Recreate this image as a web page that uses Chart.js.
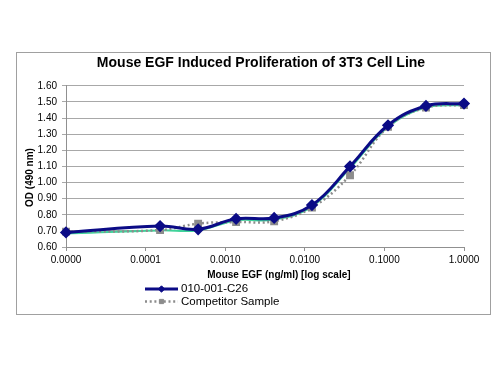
<!DOCTYPE html>
<html>
<head>
<meta charset="utf-8">
<title>Mouse EGF Induced Proliferation of 3T3 Cell Line</title>
<script src="https://cdn.jsdelivr.net/npm/chart.js@4.4.1/dist/chart.umd.min.js"></script>
<style>
  html, body { margin: 0; padding: 0; background: #fff; }
  canvas { display: block; }
</style>
</head>
<body>
<canvas id="egf" width="500" height="375"></canvas>
<script>
// concentrations (ng/ml), first point is the zero dose drawn at 1e-5
const concentrations = [0.00001, 0.000152, 0.000457, 0.00137, 0.00412, 0.0123, 0.037, 0.111, 0.333, 1.0];
const c26Values = [0.69, 0.73, 0.71, 0.775, 0.78, 0.86, 1.10, 1.355, 1.475, 1.49];
const competitorValues = [0.695, 0.705, 0.745, 0.755, 0.76, 0.845, 1.045, 1.345, 1.465, 1.48];
const greenValues = [0.683, 0.703, 0.703, 0.765, 0.77, 0.85, 1.09, 1.345, 1.465, 1.48];
const xTickValues = [0.00001, 0.0001, 0.001, 0.01, 0.1, 1];
const legendNames = ['010-001-C26', 'Competitor Sample'];

const FONT = "'Liberation Sans', Arial, sans-serif";

function toPoints(values) {
    return concentrations.map((c, i) => ({ x: c, y: values[i] }));
}

// cadre du graphique + légende empilée (deux lignes)
const frameAndLegend = {
    id: 'frameAndLegend',
    beforeDraw(chart) {
        const ctx = chart.ctx;
        ctx.save();
        ctx.strokeStyle = '#a0a0a0';
        ctx.lineWidth = 1;
        ctx.strokeRect(16.5, 52.5, 474, 262);
        ctx.restore();
    },
    afterDraw(chart) {
        const ctx = chart.ctx;
        const rows = [289, 301.5];
        [0, 1].forEach(i => {
            const ds = chart.data.datasets[i];
            const y = rows[i];
            ctx.save();
            ctx.strokeStyle = ds.borderColor;
            ctx.lineWidth = ds.borderWidth;
            ctx.setLineDash(ds.borderDash || []);
            ctx.beginPath();
            ctx.moveTo(145, y);
            ctx.lineTo(178, y);
            ctx.stroke();
            ctx.setLineDash([]);
            ctx.fillStyle = ds.pointBackgroundColor;
            ctx.strokeStyle = ds.pointBorderColor;
            ctx.lineWidth = 1;
            Chart.helpers.drawPoint(ctx, {
                pointStyle: ds.pointStyle,
                radius: ds.pointRadius - 0.8,
                borderWidth: 1,
                rotation: 0
            }, 161.5, y);
            ctx.restore();
            ctx.save();
            ctx.fillStyle = '#000';
            ctx.font = '11.5px ' + FONT;
            ctx.textBaseline = 'middle';
            ctx.fillText(ds.label, 181, y);
            ctx.restore();
        });
    }
};

const config = {
    type: 'line',
    data: {
        datasets: [
            {
                label: legendNames[0],
                data: toPoints(c26Values),
                borderColor: '#0b0b86',
                backgroundColor: '#0b0b86',
                borderWidth: 3,
                pointStyle: 'rectRot',
                pointRadius: 4,
                pointBackgroundColor: '#0b0b86',
                pointBorderColor: '#0b0b86',
                tension: 0.4,
                clip: false,
                order: 1
            },
            {
                label: legendNames[1],
                data: toPoints(competitorValues),
                borderColor: '#8c8c8c',
                backgroundColor: '#8c8c8c',
                borderWidth: 2.5,
                borderDash: [2, 2.7],
                pointStyle: 'rect',
                pointRadius: 3.8,
                pointBackgroundColor: '#8c8c8c',
                pointBorderColor: '#8c8c8c',
                tension: 0.4,
                clip: false,
                order: 2
            },
            {
                label: 'fit',
                data: toPoints(greenValues),
                borderColor: '#3fd39a',
                borderWidth: 2,
                pointRadius: 0,
                tension: 0.4,
                clip: false,
                order: 3
            }
        ]
    },
    options: {
        responsive: false,
        animation: false,
        events: [],
        layout: {
            padding: { top: 52, left: 23, right: 36, bottom: 94 }
        },
        plugins: {
            legend: { display: false },
            tooltip: { enabled: false },
            title: {
                display: true,
                text: '         Mouse EGF Induced Proliferation of 3T3 Cell Line',
                color: '#000',
                font: { family: FONT, size: 14, weight: 'bold' },
                padding: { top: 3, bottom: 14 }
            }
        },
        scales: {
            x: {
                type: 'logarithmic',
                min: xTickValues[0],
                max: xTickValues[xTickValues.length - 1],
                afterBuildTicks(scale) {
                    scale.ticks = xTickValues.map(v => ({ value: v }));
                },
                afterFit(scale) { scale.height = 34; },
                ticks: {
                    autoSkip: false,
                    maxRotation: 0,
                    padding: 3,
                    color: '#000',
                    font: { family: FONT, size: 10 },
                    callback: v => Number(v).toFixed(4)
                },
                grid: {
                    drawOnChartArea: false,
                    drawTicks: true,
                    tickLength: 4,
                    color: '#909090'
                },
                border: { color: '#909090' },
                title: {
                    display: true,
                    text: '          Mouse EGF (ng/ml) [log scale]',
                    color: '#000',
                    font: { family: FONT, size: 10, weight: 'bold' },
                    padding: { top: 3, bottom: 0 }
                }
            },
            y: {
                min: 0.6,
                max: 1.6,
                afterFit(scale) { scale.width = 43; },
                ticks: {
                    stepSize: 0.1,
                    padding: 5,
                    color: '#000',
                    font: { family: FONT, size: 10 },
                    callback: v => Number(v).toFixed(2)
                },
                grid: {
                    color: '#a8a8a8',
                    tickLength: 4
                },
                border: { color: '#909090' },
                title: {
                    display: true,
                    text: 'OD (490 nm)        ',
                    color: '#000',
                    font: { family: FONT, size: 10, weight: 'bold' },
                    padding: { top: 1, bottom: 0 }
                }
            }
        }
    },
    plugins: [frameAndLegend]
};

const chart = new Chart(document.getElementById('egf'), config);
</script>
</body>
</html>
